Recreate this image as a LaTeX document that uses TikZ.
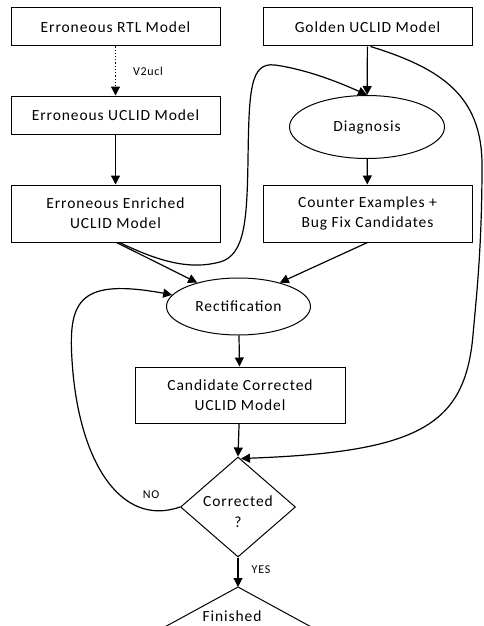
\documentclass[tikz,border=0pt]{standalone}
\usepackage{fontspec}
\setmainfont{Carlito}[LetterSpace=6]
\usetikzlibrary{shapes.geometric,arrows.meta}
\begin{document}
\begin{tikzpicture}[x=1pt,y=-1pt,
  box/.style={draw,line width=1pt,rectangle,minimum width=209pt,align=center,font=\fontsize{15.5}{20}\selectfont,inner sep=0pt},
  oval/.style={draw,line width=1pt,ellipse,inner sep=0pt,font=\fontsize{15.5}{19}\selectfont},
  lbl/.style={font=\fontsize{12}{14}\selectfont,inner sep=0pt},
  arr/.style={line width=1.2pt,-{Triangle[length=9pt,width=9pt]}},
  curv/.style={line width=1.2pt,-{Triangle[length=9pt,width=9pt]}}]
\useasboundingbox (0,0) rectangle (483,626);
\node[box,minimum height=38pt] (rtl) at (115.5,27) {Erroneous RTL Model};
\node[box,minimum height=38pt] (gold) at (367.5,27) {Golden UCLID Model};
\node[box,minimum height=38pt] (eucl) at (115.5,115) {Erroneous UCLID Model};
\node[box,minimum height=57pt] (enr) at (115.5,213.5) {Erroneous Enriched\\UCLID Model};
\node[oval,minimum width=155pt,minimum height=63pt] (diag) at (367,127) {Diagnosis};
\node[box,minimum height=57pt] (cex) at (367.5,213.5) {Counter Examples +\\Bug Fix Candidates};
\node[oval,minimum width=144pt,minimum height=57pt] (rect) at (238.5,306.5) {Rectification};
\node[box,minimum width=210pt,minimum height=56pt] (cand) at (240,395) {Candidate Corrected\\UCLID Model};
\node[draw,line width=1pt,diamond,minimum width=115pt,minimum height=100pt,inner sep=0pt] (dia) at (238,507) {};
\node[align=center,font=\fontsize{15.5}{21}\selectfont,inner sep=0pt] (diatxt) at (238,512) {Corrected\\?};
\coordinate (finapex) at (238,587);
\draw[line width=1pt] (finapex) -- (150,635) -- (326,635) -- cycle;
\node[font=\fontsize{15.5}{19}\selectfont,inner sep=0pt] (fin) at (232,616) {Finished};

\draw[line width=1.2pt,dotted,-{Triangle[length=9pt,width=9pt]}] (rtl) -- (eucl);
\node[lbl] (v2) at (148,71) {V2ucl};
\draw[arr] (eucl) -- (enr);
\draw[arr] (gold) -- (diag);
\draw[arr] (diag) -- (cex);
\draw[arr] ([xshift=1pt]enr.south) -- (rect.150);
\draw[arr] (cex.south) -- (rect.30);
\draw[arr] (rect) -- (cand);
\draw[arr] (cand) -- (dia.north);
\draw[arr] (dia.south) -- (finapex);
\node[lbl] (yes) at (261,570) {YES};
\node[lbl] (no) at (151,495) {NO};

\draw[curv] ([xshift=4pt]enr.south) .. controls (160,262) and (190,270) .. (220,262)
  .. controls (245,255) and (247,220) .. (248,160)
  .. controls (249,90) and (250,62) .. (275,65)
  .. controls (310,70) and (345,85) .. (diag.north);
\draw[curv] ([xshift=3pt]gold.south) .. controls (440,68) and (482,95) .. (482,165)
  .. controls (482,250) and (476,300) .. (473,335)
  .. controls (465,425) and (420,452) .. ([xshift=3pt,yshift=-2pt]dia.north);
\draw[curv] (dia.west) .. controls (120,528) and (78,460) .. (72,360)
  .. controls (68,300) and (80,278) .. (rect.170);
\end{tikzpicture}
\end{document}
